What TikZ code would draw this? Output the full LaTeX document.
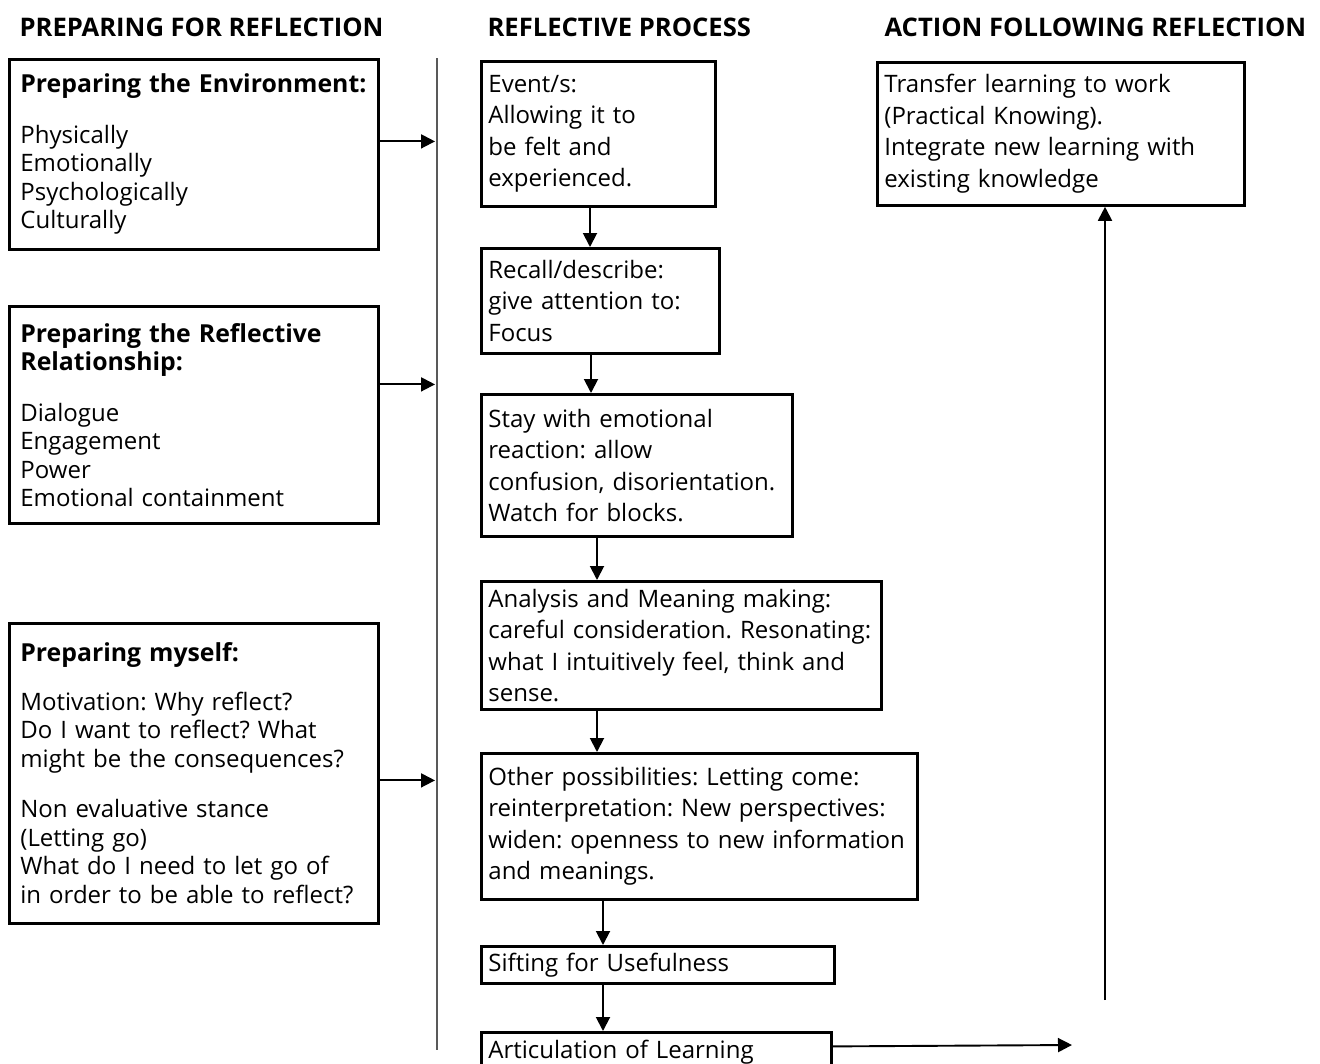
\documentclass[tikz,border=0pt]{standalone}
\usepackage{fontspec}
\setmainfont{Open Sans}
\usetikzlibrary{positioning,arrows.meta}
\frenchspacing
\newcommand\preptitle[1]{\mbox{\fontsize{24.8}{28.5}\selectfont\bfseries #1}}

\begin{document}
\begin{tikzpicture}[x=1pt,y=-1pt,font=\fontsize{24}{28.5}\selectfont,
  head/.style={anchor=west,font=\fontsize{25.6}{28}\selectfont\bfseries},
  prep/.style={draw,line width=2.8pt,anchor=north west,align=left,inner xsep=11pt,inner ysep=0pt,text width=347pt,minimum width=369pt},
  stage/.style={draw,line width=2.8pt,anchor=north west,align=left,inner xsep=7pt,inner ysep=0pt,font=\fontsize{24}{31.5}\selectfont},
  arr/.style={-{Triangle[length=14pt,width=14pt]},line width=1.9pt}]
\useasboundingbox (0,0) rectangle (1320,1063);
% column headings
\node[head] (h1) at (16,27) {PREPARING FOR REFLECTION};
\node[head] (h2) at (484,27) {REFLECTIVE PROCESS};
\node[head] (h3) at (881,27) {ACTION FOLLOWING REFLECTION};
% separator
\coordinate (sepT) at (437,58);
\coordinate (sepB) at (437,1050);
\draw[line width=1.3pt,draw=black!65] (sepT) -- (sepB);
% preparing
\node[prep,minimum height=190pt] (env) at (8,58) {\preptitle{Preparing the Environment:}\\[22pt]Physically\\Emotionally\\Psychologically\\Culturally};
\node[prep,minimum height=217pt] (rel) at (8,305) {\preptitle{Preparing the Reflective}\\\preptitle{Relationship:}\\[22pt]Dialogue\\Engagement\\Power\\Emotional containment};
\node[prep,minimum height=300pt] (self) at (8,622) {\preptitle{Preparing myself:}\\[20pt]Motivation: Why reflect?\\Do I want to reflect? What\\might be the consequences?\\[22pt]Non evaluative stance\\(Letting go)\\What do I need to let go of\\in order to be able to reflect?};
% reflective process
\node[stage,text width=220pt,minimum width=234pt,minimum height=145pt] (event) at (480,60) {Event/s:\\Allowing it to\\be felt and\\experienced.};
\node[stage,text width=224pt,minimum width=238pt,minimum height=105pt] (recall) at (480,247) {Recall/describe:\\give attention to:\\Focus};
\node[stage,text width=297pt,minimum width=311pt,minimum height=142pt] (stay) at (480,393) {Stay with emotional\\reaction: allow\\confusion, disorientation.\\Watch for blocks.};
\node[stage,text width=386pt,minimum width=400pt,minimum height=128pt] (meaning) at (480,580) {Analysis and Meaning making:\\careful consideration. Resonating:\\what I intuitively feel, think and\\sense.};
\node[stage,text width=422pt,minimum width=436pt,minimum height=146pt] (other) at (480,752) {Other possibilities: Letting come:\\reinterpretation: New perspectives:\\widen: openness to new information\\and meanings.};
\node[stage,text width=339pt,minimum width=353pt,minimum height=37pt] (sift) at (480,945) {Sifting for Usefulness};
\node[stage,text width=336pt,minimum width=350pt,minimum height=40pt] (artic) at (480,1031) {Articulation of Learning};
% action
\node[stage,text width=353pt,minimum width=367pt,minimum height=143pt] (transfer) at (876,61) {Transfer learning to work\\(Practical Knowing).\\Integrate new learning with\\existing knowledge};
% arrows into the process
\draw[arr] ([yshift=13pt]env.east) -- ([yshift=13pt,xshift=-2pt]env.east -| sepT);
\draw[arr] ([yshift=30.5pt]rel.east) -- ([yshift=30.5pt,xshift=-2pt]rel.east -| sepT);
\draw[arr] ([yshift=-7pt]self.east) -- ([yshift=-7pt,xshift=-2pt]self.east -| sepT);
% down the process
\foreach \a/\b/\d in {event/recall/110,recall/stay/111,stay/meaning/117,meaning/other/117,other/sift/123,sift/artic/123}{
  \draw[arr] ([xshift=\d pt]\a.south west) -- ([xshift=\d pt]\a.south west |- \b.north);}
% towards action
\coordinate (artEnd) at (1072,1045);
\coordinate (upStart) at (1105,1000);
\draw[arr] ([yshift=6pt]artic.east) -- (artEnd);
\draw[arr] (upStart) -- (upStart |- transfer.south);
\end{tikzpicture}
\end{document}
